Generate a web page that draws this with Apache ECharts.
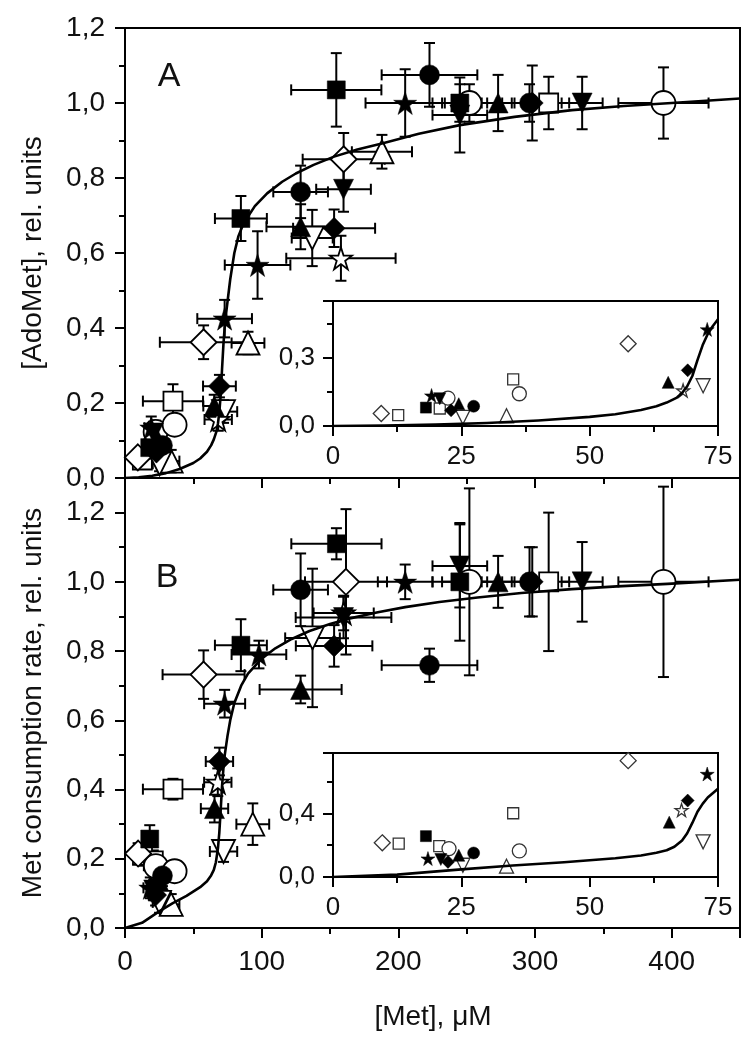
<!DOCTYPE html>
<html><head><meta charset="utf-8">
<script src="https://cdn.jsdelivr.net/npm/echarts@6/dist/echarts.min.js"></script>
<style>html,body{margin:0;padding:0;background:#fff}#c{width:747px;height:1050px}</style>
</head><body><div id="c"></div><script>
// ---- data: [x (µM), y (rel. units), x error, y error] ----
const aFilledSquare  = [[18.1,0.081,5,0.03],[84.8,0.692,19,0.06],[154.6,1.035,33,0.098],[245,1.0,20,0.05]];
const aFilledCircle  = [[27.4,0.087,5,0.03],[128.5,0.763,20,0.07],[222.8,1.075,35,0.085],[296,1.0,20,0.05]];
const aFilledTriUp   = [[24.5,0.098,5,0.03],[65.3,0.192,8,0.03],[128.5,0.67,25,0.06],[273,1.0,12,0.075]];
const aFilledTriDown = [[20.8,0.12,5,0.03],[159.9,0.77,20,0.06],[245,0.968,20,0.1],[334.5,1.0,15,0.07]];
const aFilledDiamond = [[23,0.069,5,0.03],[69.1,0.245,12,0.03],[153,0.666,30,0.05],[298,1.0,15,0.1]];
const aFilledStar    = [[19.2,0.134,5,0.03],[72.9,0.425,20,0.05],[97,0.568,24,0.09],[205,1.0,29,0.09]];
const aOpenSquare    = [[12.7,0.048,4,0.02],[20.8,0.077,5,0.02],[35.1,0.205,22,0.045],[310,1.0,15,0.07]];
const aOpenCircle    = [[22.4,0.123,5,0.03],[36.3,0.142,5,0.02],[252,1.0,20,0.05],[394,1.0,33,0.095]];
const aOpenTriUp     = [[33.8,0.045,6,0.03],[90,0.36,12,0.03],[188,0.87,22,0.045]];
const aOpenTriDown   = [[25.3,0.038,5,0.02],[72.1,0.177,10,0.03],[137,0.64,15,0.075]];
const aOpenDiamond   = [[9.4,0.055,4,0.02],[57.5,0.362,32,0.045],[160,0.85,30,0.07]];
const aOpenStar      = [[68.2,0.156,10,0.03],[158,0.586,40,0.06]];

const bFilledSquare  = [[18.1,0.257,5,0.04],[84.8,0.817,19,0.075],[154.7,1.11,33,0.045],[245,1.0,20,0.17]];
const bFilledCircle  = [[27.4,0.151,5,0.03],[128.5,0.977,20,0.105],[222.8,0.759,35,0.048],[296,1.0,20,0.1]];
const bFilledTriUp   = [[24.5,0.137,5,0.03],[65.5,0.345,10,0.04],[128.5,0.689,30,0.04],[273,1.0,12,0.075]];
const bFilledTriDown = [[21,0.11,5,0.03],[159.9,0.897,35,0.06],[245,1.046,20,0.12],[334.5,1.0,15,0.115]];
const bFilledDiamond = [[22.4,0.095,5,0.03],[69.1,0.481,10,0.04],[153,0.815,28,0.06],[298,1.0,15,0.1]];
const bFilledStar    = [[18.5,0.116,5,0.03],[72.9,0.648,15,0.04],[98,0.79,20,0.04],[205,1.0,20,0.05]];
const bOpenSquare    = [[12.8,0.21,4,0.03],[20.7,0.194,5,0.03],[35.1,0.401,22,0.03],[310,1.0,15,0.2]];
const bOpenCircle    = [[22.6,0.179,5,0.03],[36.3,0.164,5,0.02],[252,1.0,20,0.27],[394,1.0,33,0.275]];
const bOpenTriUp     = [[33.8,0.068,6,0.03],[93.5,0.3,12,0.06]];
const bOpenTriDown   = [[25.3,0.074,5,0.03],[72.1,0.221,10,0.03],[137.2,0.838,20,0.2]];
const bOpenDiamond   = [[9.6,0.215,4,0.03],[57.5,0.732,30,0.07],[161.7,1.0,30,0.21]];
const bOpenStar      = [[67.9,0.421,10,0.04],[160,0.91,22,0.05]];

// fitted curves
const curveA = [[0,0],[10,0.002],[20,0.006],[30,0.013],[40,0.024],[50,0.04],[55,0.052],[60,0.07],[63,0.087],[65,0.103],[67,0.125],[68,0.145],[69,0.175],[70,0.22],[71,0.29],[72,0.355],[73,0.405],[74,0.44],[75,0.47],[77,0.53],[80,0.6],[83,0.645],[86,0.672],[90,0.697],[95,0.725],[104,0.759],[115,0.79],[125,0.812],[138,0.835],[153,0.857],[170,0.876],[188,0.892],[215,0.918],[245,0.941],[285,0.963],[327,0.981],[365,0.992],[400,1.0],[450,1.012]];
const curveB = [[0,0],[12.5,0.015],[25,0.048],[35,0.072],[45,0.093],[55,0.118],[60,0.135],[63,0.152],[65,0.168],[66.5,0.19],[68,0.23],[69,0.275],[70,0.34],[71,0.41],[72,0.46],[73,0.5],[75,0.555],[77,0.6],[80,0.65],[85,0.7],[90,0.735],[100,0.778],[110,0.808],[122,0.835],[135,0.858],[150,0.878],[163,0.893],[185,0.912],[205,0.927],[230,0.942],[258,0.955],[290,0.968],[327,0.979],[360,0.987],[397,0.994],[450,1.006]];

// tick labels
const mainXTicks = [0,100,200,300,400];
const mainYTicks = [0,0.2,0.4,0.6,0.8,1.0,1.2];
const insetXTicks = [0,25,50,75];
const insetAYTicks = [0,0.3];
const insetBYTicks = [0,0.4];
const insetXMax = 75;

// ---- styles ----
const STAR = 'path://M50,2 L61.8,37.6 L99.4,37.6 L69,59.6 L80.6,95.4 L50,73.2 L19.4,95.4 L31,59.6 L0.6,37.6 L38.2,37.6 Z';
const kinds = [
  {symbol:'rect', filled:true, size:18},
  {symbol:'circle', filled:true, size:20},
  {symbol:'triangle', filled:true, size:20},
  {symbol:'triangle', rotate:180, filled:true, size:20},
  {symbol:'diamond', filled:true, size:22},
  {symbol:STAR, filled:true, size:23},
  {symbol:'rect', filled:false, size:19},
  {symbol:'circle', filled:false, size:24},
  {symbol:'triangle', filled:false, size:23},
  {symbol:'triangle', rotate:180, filled:false, size:23},
  {symbol:'diamond', filled:false, size:26},
  {symbol:STAR, filled:false, size:22}
];
const panelA = [aFilledSquare,aFilledCircle,aFilledTriUp,aFilledTriDown,aFilledDiamond,aFilledStar,aOpenSquare,aOpenCircle,aOpenTriUp,aOpenTriDown,aOpenDiamond,aOpenStar];
const panelB = [bFilledSquare,bFilledCircle,bFilledTriUp,bFilledTriDown,bFilledDiamond,bFilledStar,bOpenSquare,bOpenCircle,bOpenTriUp,bOpenTriDown,bOpenDiamond,bOpenStar];

const FONT = 'Liberation Sans, Arial, sans-serif';
const fmt = v => v.toFixed(1).replace('.', ',');
const has = (arr, v) => arr.some(t => Math.abs(t - v) < 1e-9);

function axisBase() {
  return {type:'value',
    axisLine:{onZero:false, lineStyle:{color:'#000', width:2}},
    axisTick:{length:10, lineStyle:{color:'#000', width:2}},
    minorTick:{show:true, splitNumber:2, length:6, lineStyle:{color:'#000', width:2}},
    splitLine:{show:false}};
}
function mainX(gi, showLabels) {
  return Object.assign(axisBase(), {gridIndex: gi, min:0, max:450, interval:100,
    axisLabel:{show:showLabels, margin:20, fontSize:28, color:'#111', fontFamily:FONT,
      formatter: v => has(mainXTicks, v) ? String(v) : ''}});
}
function mainY(gi, max) {
  return Object.assign(axisBase(), {gridIndex: gi, min:0, max:max, interval:0.2,
    axisLabel:{margin:20, fontSize:28, color:'#111', fontFamily:FONT,
      formatter: v => has(mainYTicks, v) ? fmt(v) : ''}});
}
function insetX(gi) {
  return Object.assign(axisBase(), {gridIndex: gi, min:0, max:insetXMax, interval:25,
    axisLabel:{margin:18, fontSize:26, color:'#111', fontFamily:FONT,
      formatter: v => has(insetXTicks, v) ? String(v) : ''}});
}
function insetY(gi, max, interval, ticks) {
  return Object.assign(axisBase(), {gridIndex: gi, min:0, max:max, interval:interval,
    axisLabel:{margin:18, fontSize:26, color:'#111', fontFamily:FONT,
      formatter: v => has(ticks, v) ? fmt(v) : ''}});
}

function errorBars(rows, gi) {
  return {type:'custom', xAxisIndex:gi, yAxisIndex:gi, z:2, silent:true,
    encode:{x:0, y:1}, data: rows,
    renderItem: (params, api) => {
      const x = api.value(0), y = api.value(1), xe = api.value(2), ye = api.value(3);
      const c = api.coord([x, y]);
      const l = api.coord([x - xe, y]), r = api.coord([x + xe, y]);
      const t = api.coord([x, y + ye]), b = api.coord([x, y - ye]);
      const cap = 5.5;
      const st = {stroke:'#000', lineWidth:2};
      return {type:'group', children:[
        {type:'line', shape:{x1:l[0], y1:c[1], x2:r[0], y2:c[1]}, style:st},
        {type:'line', shape:{x1:c[0], y1:t[1], x2:c[0], y2:b[1]}, style:st},
        {type:'line', shape:{x1:l[0], y1:c[1]-cap, x2:l[0], y2:c[1]+cap}, style:st},
        {type:'line', shape:{x1:r[0], y1:c[1]-cap, x2:r[0], y2:c[1]+cap}, style:st},
        {type:'line', shape:{x1:c[0]-cap, y1:t[1], x2:c[0]+cap, y2:t[1]}, style:st},
        {type:'line', shape:{x1:c[0]-cap, y1:b[1], x2:c[0]+cap, y2:b[1]}, style:st}
      ]};
    }};
}

function scatterSeries(panel, gi, inset) {
  return panel.map((rows, k) => {
    const kd = kinds[k];
    const data = inset ? rows.filter(r => r[0] <= insetXMax) : rows;
    return {type:'scatter', xAxisIndex:gi, yAxisIndex:gi, z: kd.filled ? 4 : 3,
      symbol: kd.symbol, symbolRotate: kd.rotate || 0,
      symbolSize: inset ? Math.round(kd.size * 0.6) : kd.size,
      data: data.map(r => [r[0], r[1]]),
      itemStyle: kd.filled ? {color:'#000', borderColor:'#000', borderWidth:0.5, opacity:1}
        : {color:'#fff', borderColor: inset ? '#333' : '#000', borderWidth: inset ? 1.3 : 1.8, opacity:1},
      emphasis:{disabled:true}, silent:true, animation:false};
  });
}

function curveSeries(curve, gi, inset) {
  return {type:'line', xAxisIndex:gi, yAxisIndex:gi, z:5, showSymbol:false, symbol:'none',
    smooth:false, clip:true,
    data: inset ? curve.filter(p => p[0] <= insetXMax) : curve,
    lineStyle:{color:'#000', width:2.6, join:'round'}, silent:true, animation:false};
}

const series = [].concat(
  errorBars([].concat(...panelA), 0),
  scatterSeries(panelA, 0, false),
  curveSeries(curveA, 0, false),
  errorBars([].concat(...panelB), 1),
  scatterSeries(panelB, 1, false),
  curveSeries(curveB, 1, false),
  curveSeries(curveA, 2, true),
  scatterSeries(panelA, 2, true),
  curveSeries(curveB, 3, true),
  scatterSeries(panelB, 3, true)
);

const chart = echarts.init(document.getElementById('c'), null, {renderer:'canvas'});
chart.setOption({
  animation:false,
  backgroundColor:'#fff',
  grid:[
    {left:125, top:28, width:615, height:450, show:true, borderColor:'#000', borderWidth:2, backgroundColor:'transparent'},
    {left:125, top:478, width:615, height:450, show:true, borderColor:'#000', borderWidth:2, backgroundColor:'transparent'},
    {left:333, top:301, width:385, height:125, show:true, borderColor:'#000', borderWidth:2, backgroundColor:'#fff', z:3},
    {left:333, top:753, width:385, height:124, show:true, borderColor:'#000', borderWidth:2, backgroundColor:'#fff', z:3}
  ],
  xAxis:[mainX(0,false), mainX(1,true), insetX(2), insetX(3)],
  yAxis:[mainY(0,1.2), mainY(1,1.3), insetY(2,0.55,0.3,insetAYTicks), insetY(3,0.78,0.4,insetBYTicks)],
  graphic:[
    {type:'text', x:33, y:253, rotation:Math.PI/2, style:{text:'[AdoMet], rel. units', fontSize:28, fontFamily:FONT, fill:'#111', align:'center', verticalAlign:'middle'}},
    {type:'text', x:33, y:703, rotation:Math.PI/2, style:{text:'Met consumption rate, rel. units', fontSize:28, fontFamily:FONT, fill:'#111', align:'center', verticalAlign:'middle'}},
    {type:'text', x:433, y:1017, style:{text:'[Met], μM', fontSize:28, fontFamily:FONT, fill:'#111', align:'center', verticalAlign:'middle'}},
    {type:'text', x:169, y:77, style:{text:'A', fontSize:34, fontFamily:FONT, fill:'#111', align:'center', verticalAlign:'middle'}},
    {type:'text', x:167, y:578, style:{text:'B', fontSize:34, fontFamily:FONT, fill:'#111', align:'center', verticalAlign:'middle'}}
  ],
  series: series
});
</script></body></html>
